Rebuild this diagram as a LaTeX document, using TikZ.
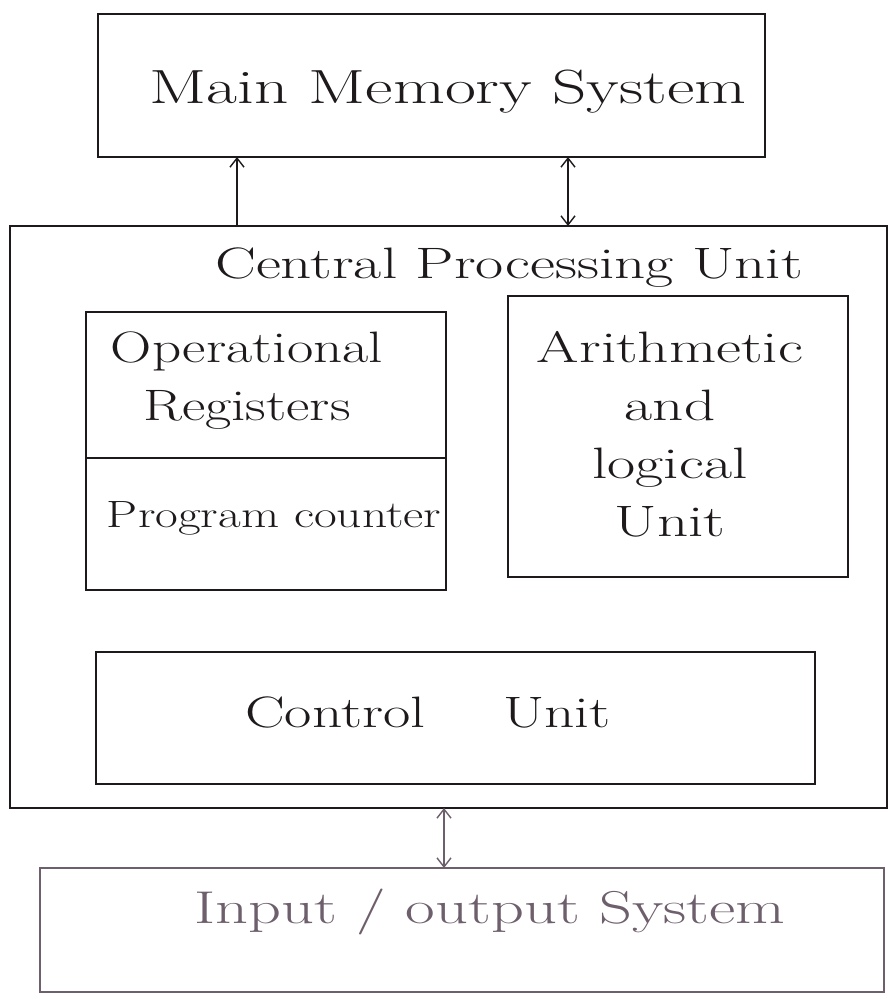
\documentclass[tikz,border=0pt]{standalone}
\usetikzlibrary{arrows.meta}
\definecolor{ink}{HTML}{1E1A1C}
\definecolor{faded}{HTML}{6E5F6C}
\newcommand\hw[2]{\scalebox{#1}[1]{#2}}
\begin{document}
\begin{tikzpicture}[x=1pt,y=-1pt,
  box/.style={draw=ink,line width=1.6pt},
  lbl/.style={text=ink,inner sep=0pt,font=\fontsize{44}{58}\selectfont},
  arr/.style={draw=ink,line width=1.4pt,-{Straight Barb[length=9pt,width=14pt]}},
  darr/.style={draw=ink,line width=1.4pt,{Straight Barb[length=9pt,width=14pt]}-{Straight Barb[length=9pt,width=14pt]}}]
\useasboundingbox[fill=white] (0,0) rectangle (888,999);
% Main memory
\draw[box] (98,14) rectangle (765,157);
\node[lbl,font=\fontsize{48}{54}\selectfont] (mm) at (448,92) {\hw{1.4}{Main Memory System}};
\coordinate (mmL) at (237,157);
\coordinate (mmR) at (568,157);
% CPU
\draw[box] (10,226) rectangle (887,808);
\coordinate (cpuL) at (237,226);
\coordinate (cpuR) at (568,226);
\coordinate (cpuB) at (444,808);
\node[lbl] (cpu) at (509,268) {\hw{1.39}{Central Processing Unit}};
% registers
\draw[box] (86,312) rectangle (446,590);
\draw[box] (86,458) -- (446,458);
\node[lbl] (opreg) at (247,380) {\hw{1.3}{\begin{tabular}{@{}c@{}}Operational\\Registers\end{tabular}}};
\node[lbl,font=\fontsize{38}{44}\selectfont] (pc) at (274,518) {\hw{1.3}{Program counter}};
% ALU
\draw[box] (508,296) rectangle (848,577);
\node[lbl] (alu) at (670,438) {\hw{1.39}{\begin{tabular}{@{}c@{}}Arithmetic\\and\\logical\\Unit\end{tabular}}};
% control unit
\draw[box] (96,652) rectangle (815,784);
\node[lbl] (cu) at (428,712) {\hw{1.35}{Control\hspace{58pt}Unit}};
% IO
\draw[draw=faded,line width=1.6pt] (40,868) rectangle (884,992);
\coordinate (ioT) at (444,868);
\node[lbl,text=faded,font=\fontsize{46}{52}\selectfont] (io) at (490,912) {\hw{1.4}{Input / output System}};
% arrows
\draw[arr] (cpuL) -- (mmL);
\draw[darr] (cpuR) -- (mmR);
\draw[darr,draw=faded] (cpuB) -- (ioT);
\end{tikzpicture}
\end{document}
